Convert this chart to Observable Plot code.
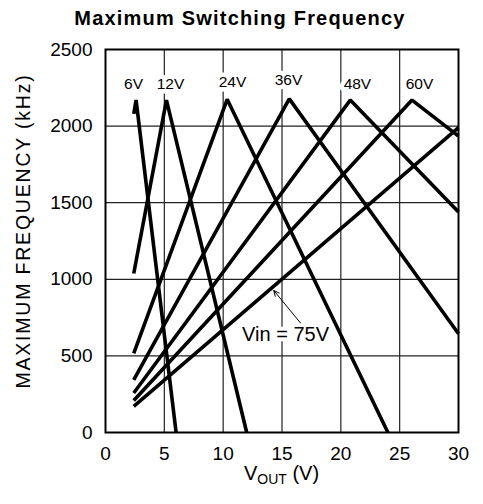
<!DOCTYPE html>
<html>
<head>
<meta charset="utf-8">
<script src="https://cdn.jsdelivr.net/npm/d3@7"></script>
<script src="https://cdn.jsdelivr.net/npm/@observablehq/plot@0.6"></script>
<style>
  html, body { margin: 0; padding: 0; background: white; }
  #chart { width: 483px; height: 504px; }
</style>
</head>
<body>
<div id="chart"></div>
<script>
// ---- data ----
const vin        = [6, 12, 24, 36, 48, 60, 75];
const startVout  = [2.4, 2.4, 2.4, 2.4, 2.4, 2.4, 2.4];
const startFreq  = [2080, 1038, 516, 344, 258, 209, 170];
const peakVout   = [2.6, 5.18, 10.34, 15.62, 20.8, 26.05, null];
const peakFreq   = [2170, 2170, 2175, 2178, 2170, 2170, null];
const endVout    = [6, 12, 24, 30, 30, 30, 30];
const endFreq    = [0, 0, 0, 645, 1440, 1935, 1990];

const labelText  = ["6V", "12V", "24V", "36V", "48V", "60V"];
const labelVout  = [2.38, 5.52, 10.79, 15.55, 21.41, 26.68];
const labelFreq  = [2275, 2272, 2287, 2300, 2272, 2272];

const annText    = ["Vin = 75V"];
const annVout    = [15.3];
const annFreq    = [640];
const arrowFrom  = [[16.57, 715]];
const arrowTo    = [[14.3, 927]];

const xTicks = [0, 5, 10, 15, 20, 25, 30];
const yTicks = [0, 500, 1000, 1500, 2000, 2500];
const xGrid  = [5, 10, 15, 20, 25];
const yGrid  = [500, 1000, 1500, 2000];

const titleText = "Maximum Switching Frequency";
const yLabel = "MAXIMUM FREQUENCY (kHz)";

// ---- build tables ----
const curves = vin.flatMap((v, i) => {
  const pts = [{vin: v, vout: startVout[i], f: startFreq[i]}];
  if (peakVout[i] != null) pts.push({vin: v, vout: peakVout[i], f: peakFreq[i]});
  pts.push({vin: v, vout: endVout[i], f: endFreq[i]});
  return pts;
});
const labels = labelText.map((t, i) => ({t, x: labelVout[i], y: labelFreq[i]}));
const ann = annText.map((t, i) => ({t, x: annVout[i], y: annFreq[i]}));
const arrows = arrowFrom.map((a, i) => ({x1: a[0], y1: a[1], x2: arrowTo[i][0], y2: arrowTo[i][1]}));

const FONT = "'Liberation Sans', Arial, Helvetica, sans-serif";

const plot = Plot.plot({
  width: 483,
  height: 504,
  marginLeft: 105,
  marginRight: 25,
  marginTop: 49,
  marginBottom: 72,
  style: {fontFamily: FONT, fontSize: "19px", background: "white", color: "black"},
  x: {domain: [0, 30]},
  y: {domain: [0, 2500]},
  marks: [
    Plot.gridX(xGrid, {stroke: "#222", strokeOpacity: 1, strokeWidth: 1.2}),
    Plot.gridY(yGrid, {stroke: "#222", strokeOpacity: 1, strokeWidth: 1.2}),
    Plot.text(labels, {x: "x", y: "y", text: "t", fontSize: 15.5, fill: "black",
      stroke: "white", strokeWidth: 9, paintOrder: "stroke", lineAnchor: "middle"}),
    Plot.text(ann, {x: "x", y: "y", text: "t", fontSize: 20, fill: "black",
      stroke: "white", strokeWidth: 8, paintOrder: "stroke", lineAnchor: "middle"}),
    Plot.line(curves, {x: "vout", y: "f", z: "vin", stroke: "black", strokeWidth: 3.6,
      strokeLinejoin: "miter", strokeLinecap: "butt"}),
    Plot.arrow(arrows, {x1: "x1", y1: "y1", x2: "x2", y2: "y2", stroke: "black",
      strokeWidth: 1, headLength: 9, headAngle: 50}),
    Plot.frame({stroke: "black", strokeWidth: 2}),
    Plot.axisX(xTicks, {tickSize: 0, tickPadding: 14, label: null, fontSize: 19, tickFormat: d => String(d)}),
    Plot.axisY(yTicks, {tickSize: 0, tickPadding: 13, label: null, fontSize: 19, tickFormat: d => String(d)})
  ]
});

document.getElementById("chart").appendChild(plot);

const svg = d3.select(plot);
const sx = plot.scale("x").apply;

// title
svg.append("text")
  .attr("x", 240).attr("y", 25)
  .attr("text-anchor", "middle")
  .attr("font-family", FONT)
  .attr("font-weight", "bold")
  .attr("font-size", 20)
  .attr("letter-spacing", "1.2px")
  .attr("fill", "black")
  .text(titleText);

// y label
svg.append("text")
  .attr("transform", "translate(30,231) rotate(-90)")
  .attr("text-anchor", "middle")
  .attr("font-family", FONT)
  .attr("font-size", 19.5)
  .attr("letter-spacing", "1.8px")
  .attr("fill", "black")
  .text(yLabel);

// x label with subscript
const xl = svg.append("text")
  .attr("x", sx(15)).attr("y", 480)
  .attr("text-anchor", "middle")
  .attr("font-family", FONT)
  .attr("font-size", 20)
  .attr("fill", "black");
xl.append("tspan").text("V");
xl.append("tspan").attr("font-size", 14).attr("dy", 4).text("OUT");
xl.append("tspan").attr("dy", -4).text(" (V)");
</script>
</body>
</html>
